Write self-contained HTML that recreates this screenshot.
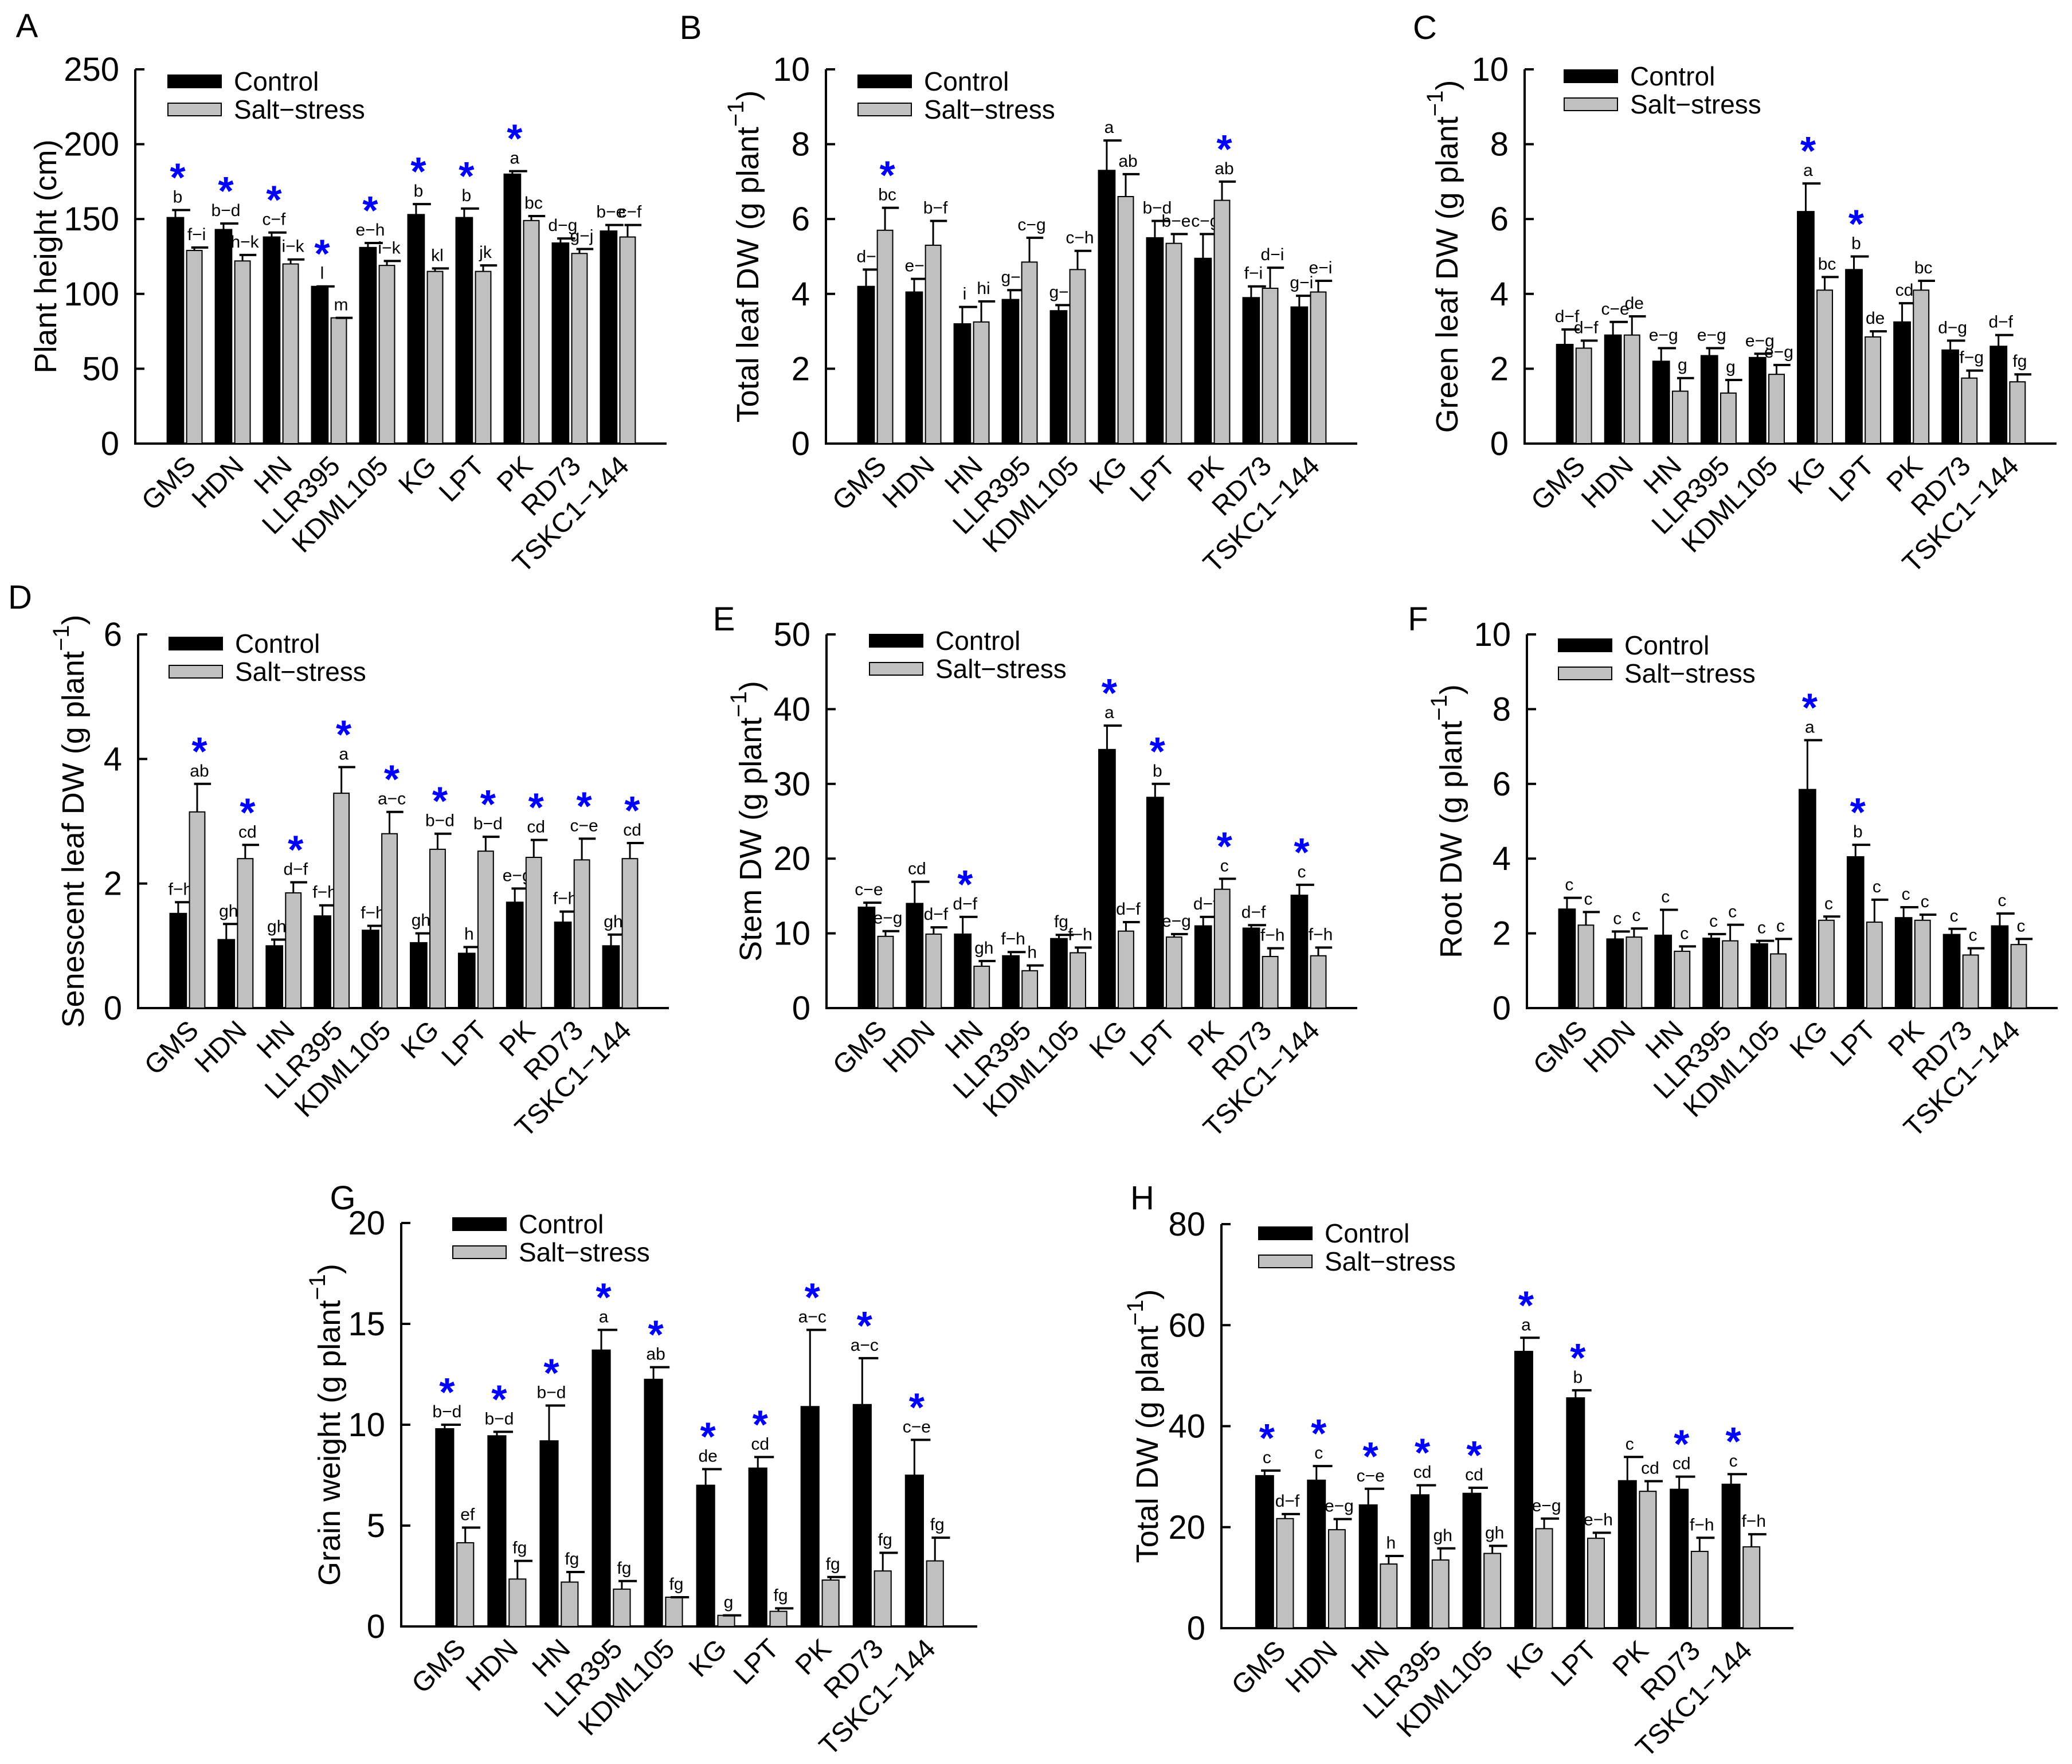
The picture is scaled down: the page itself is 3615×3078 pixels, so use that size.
<!DOCTYPE html>
<html><head><meta charset="utf-8"><style>
html,body{margin:0;padding:0;background:#fff;}
svg{display:block;font-family:"Liberation Sans",Arial,sans-serif;}
</style></head><body>
<svg id="fig" width="3615" height="3078" viewBox="0 0 3615 3078" xmlns="http://www.w3.org/2000/svg"></svg>
<script>
const categories = ["GMS","HDN","HN","LLR395","KDML105","KG","LPT","PK","RD73","TSKC1\u2212144"];
// Panel A
const aCtrl=[151,143,138,105,131,153,151,180,134,142];
const aCtrlErr=[156,147,141,105,134,160,157,182,137,146];
const aSalt=[129,122,120,84,119,115,115,149,127,138];
const aSaltErr=[131,126,123,84,122,117,119,152,130,146];
const aCtrlLet=["b","b\u2212d","c\u2212f","l","e\u2212h","b","b","a","d\u2212g","b\u2212e"];
const aSaltLet=["f\u2212i","h\u2212k","i\u2212k","m","i\u2212k","kl","jk","bc","g\u2212j","c\u2212f"];
const aStars=[1,1,1,1,1,1,1,1,0,0];
// Panel B
const bCtrl=[4.2,4.05,3.2,3.85,3.55,7.3,5.5,4.95,3.9,3.65];
const bCtrlErr=[4.65,4.4,3.65,4.1,3.7,8.1,5.95,5.6,4.2,3.95];
const bSalt=[5.7,5.3,3.25,4.85,4.65,6.6,5.35,6.5,4.15,4.05];
const bSaltErr=[6.3,5.95,3.8,5.5,5.15,7.2,5.6,7.0,4.7,4.35];
const bCtrlLet=["d\u2212i","e\u2212i","i","g\u2212i","g\u2212i","a","b\u2212d","c\u2212g","f\u2212i","g\u2212i"];
const bSaltLet=["bc","b\u2212f","hi","c\u2212g","c\u2212h","ab","b\u2212e","ab","d\u2212i","e\u2212i"];
const bStars=[2,0,0,0,0,0,0,2,0,0];
// Panel C
const cCtrl=[2.65,2.9,2.2,2.35,2.3,6.2,4.65,3.25,2.5,2.6];
const cCtrlErr=[3.05,3.25,2.55,2.55,2.4,6.95,5.0,3.75,2.75,2.9];
const cSalt=[2.55,2.9,1.4,1.35,1.85,4.1,2.85,4.1,1.75,1.65];
const cSaltErr=[2.75,3.4,1.75,1.7,2.1,4.45,3.0,4.35,1.95,1.85];
const cCtrlLet=["d\u2212f","c\u2212e","e\u2212g","e\u2212g","e\u2212g","a","b","cd","d\u2212g","d\u2212f"];
const cSaltLet=["d\u2212f","de","g","g","e\u2212g","bc","de","bc","f\u2212g","fg"];
const cStars=[0,0,0,0,0,1,1,0,0,0];
// Panel D
const dCtrl=[1.52,1.1,1.0,1.48,1.25,1.05,0.88,1.7,1.38,1.0];
const dCtrlErr=[1.7,1.35,1.1,1.65,1.32,1.2,0.98,1.92,1.55,1.18];
const dSalt=[3.15,2.4,1.85,3.45,2.8,2.55,2.52,2.42,2.38,2.4];
const dSaltErr=[3.6,2.62,2.02,3.87,3.15,2.8,2.75,2.7,2.72,2.65];
const dCtrlLet=["f\u2212h","gh","gh","f\u2212h","f\u2212h","gh","h","e\u2212g","f\u2212h","gh"];
const dSaltLet=["ab","cd","d\u2212f","a","a\u2212c","b\u2212d","b\u2212d","cd","c\u2212e","cd"];
const dStars=[2,2,2,2,2,2,2,2,2,2];
// Panel E
const eCtrl=[13.5,14,9.9,7.0,9.3,34.6,28.2,11.0,10.7,15.1];
const eCtrlErr=[14.1,16.9,12.2,7.5,9.8,37.8,30,12.2,11.1,16.5];
const eSalt=[9.6,9.9,5.6,5.0,7.4,10.3,9.5,15.9,6.9,7.0];
const eSaltErr=[10.3,10.8,6.3,5.7,8.1,11.5,9.9,17.3,8.0,8.1];
const eCtrlLet=["c\u2212e","cd","d\u2212f","f\u2212h","fg","a","b","d\u2212f","d\u2212f","c"];
const eSaltLet=["e\u2212g","d\u2212f","gh","h","f\u2212h","d\u2212f","e\u2212g","c","f\u2212h","f\u2212h"];
const eStars=[0,0,1,0,0,1,1,2,0,1];
// Panel F
const fCtrl=[2.65,1.85,1.95,1.87,1.72,5.85,4.05,2.42,1.97,2.2];
const fCtrlErr=[2.95,2.05,2.63,1.98,1.8,7.17,4.37,2.7,2.12,2.53];
const fSalt=[2.22,1.9,1.52,1.8,1.45,2.35,2.3,2.35,1.42,1.7];
const fSaltErr=[2.57,2.13,1.65,2.23,1.85,2.45,2.9,2.5,1.6,1.85];
const fCtrlLet=["c","c","c","c","c","a","b","c","c","c"];
const fSaltLet=["c","c","c","c","c","c","c","c","c","c"];
const fStars=[0,0,0,0,0,1,1,0,0,0];
// Panel G
const gCtrl=[9.8,9.45,9.2,13.7,12.25,7.0,7.85,10.9,11.0,7.5];
const gCtrlErr=[10.0,9.65,10.95,14.7,12.85,7.8,8.4,14.7,13.3,9.25];
const gSalt=[4.15,2.35,2.2,1.85,1.45,0.55,0.75,2.3,2.75,3.25];
const gSaltErr=[4.9,3.25,2.7,2.25,1.45,0.55,0.9,2.45,3.65,4.4];
const gCtrlLet=["b\u2212d","b\u2212d","b\u2212d","a","ab","de","cd","a\u2212c","a\u2212c","c\u2212e"];
const gSaltLet=["ef","fg","fg","fg","fg","g","fg","fg","fg","fg"];
const gStars=[1,1,1,1,1,1,1,1,1,1];
// Panel H
const hCtrl=[30.2,29.3,24.4,26.4,26.7,54.8,45.6,29.2,27.5,28.5];
const hCtrlErr=[31.2,32.1,27.6,28.3,27.8,57.5,47.1,33.9,30.0,30.5];
const hSalt=[21.7,19.5,12.7,13.5,14.8,19.7,17.8,27.1,15.2,16.1];
const hSaltErr=[22.6,21.6,14.3,15.8,16.3,21.7,18.9,29.1,17.9,18.6];
const hCtrlLet=["c","c","c\u2212e","cd","cd","a","b","c","cd","c"];
const hSaltLet=["d\u2212f","e\u2212g","h","gh","gh","e\u2212g","e\u2212h","cd","f\u2212h","f\u2212h"];
const hStars=[1,1,1,1,1,1,1,0,1,1];

const svg=document.getElementById('fig');
const NS="http://www.w3.org/2000/svg";
function mk(tag,attrs,parent){const e=document.createElementNS(NS,tag);for(const k in attrs)e.setAttribute(k,attrs[k]);(parent||svg).appendChild(e);return e;}

const panels=[
 {id:"a",letter:"A",lx:47,ly:65,x0:236,L:927,yT:121,yB:774,max:250,step:50,title:"Plant height (cm)",sup:false,tx:80,leg:[293,131],ctrl:aCtrl,ctrlE:aCtrlErr,salt:aSalt,saltE:aSaltErr,cl:aCtrlLet,sl:aSaltLet,st:aStars},
 {id:"b",letter:"B",lx:1205,ly:68,x0:1441,L:927,yT:121,yB:774,max:10,step:2,title:"Total leaf DW (g plant",sup:true,tx:1305,leg:[1497,131],ctrl:bCtrl,ctrlE:bCtrlErr,salt:bSalt,saltE:bSaltErr,cl:bCtrlLet,sl:bSaltLet,st:bStars},
 {id:"c",letter:"C",lx:2486,ly:68,x0:2660,L:928,yT:121,yB:774,max:10,step:2,title:"Green leaf DW (g plant",sup:true,tx:2525,leg:[2729,122],ctrl:cCtrl,ctrlE:cCtrlErr,salt:cSalt,saltE:cSaltErr,cl:cCtrlLet,sl:cSaltLet,st:cStars},
 {id:"d",letter:"D",lx:35,ly:1062,x0:241,L:926,yT:1107,yB:1759,max:6,step:2,title:"Senescent leaf DW (g plant",sup:true,tx:128,leg:[295,1112],ctrl:dCtrl,ctrlE:dCtrlErr,salt:dSalt,saltE:dSaltErr,cl:dCtrlLet,sl:dSaltLet,st:dStars},
 {id:"e",letter:"E",lx:1263,ly:1100,x0:1442,L:926,yT:1107,yB:1759,max:50,step:10,title:"Stem DW (g plant",sup:true,tx:1310,leg:[1517,1107],ctrl:eCtrl,ctrlE:eCtrlErr,salt:eSalt,saltE:eSaltErr,cl:eCtrlLet,sl:eSaltLet,st:eStars},
 {id:"f",letter:"F",lx:2474,ly:1100,x0:2664,L:926,yT:1107,yB:1759,max:10,step:2,title:"Root DW (g plant",sup:true,tx:2532,leg:[2719,1115],ctrl:fCtrl,ctrlE:fCtrlErr,salt:fSalt,saltE:fSaltErr,cl:fCtrlLet,sl:fSaltLet,st:fStars},
 {id:"g",letter:"G",lx:598,ly:2110,x0:700,L:1005,yT:2134,yB:2838,max:20,step:5,title:"Grain weight (g plant",sup:true,tx:575,leg:[790,2125],ctrl:gCtrl,ctrlE:gCtrlErr,salt:gSalt,saltE:gSaltErr,cl:gCtrlLet,sl:gSaltLet,st:gStars},
 {id:"h",letter:"H",lx:1993,ly:2110,x0:2131,L:998,yT:2136,yB:2841,max:80,step:20,title:"Total DW (g plant",sup:true,tx:2002,leg:[2196,2141],ctrl:hCtrl,ctrlE:hCtrlErr,salt:hSalt,saltE:hSaltErr,cl:hCtrlLet,sl:hSaltLet,st:hStars}
];

panels.forEach(p=>{
 const g=mk('g',{});
 
 
 const yS=v=>p.yB-(v/p.max)*(p.yB-p.yT);
 const xS=(i,s)=>p.x0+p.L*(0.060+i*0.0906+(s?0.0367:0));
 const cw=p.L*0.031, sw=p.L*0.029;
 const lt=mk('text',{x:p.lx,y:p.ly,'font-size':58,'text-anchor':'middle'},g);lt.textContent=p.letter;
 
 
 const ya=mk('line',{x1:p.x0,y1:p.yT,x2:p.x0,y2:p.yB,stroke:'#000','stroke-width':4},g);
 
 
 const xa=mk('line',{x1:p.x0-2,y1:p.yB,x2:p.x0+p.L,y2:p.yB,stroke:'#000','stroke-width':4},g);
 
 
 for(let v=0;v<=p.max+1e-9;v+=p.step){
  const y=yS(v);
  mk('line',{x1:p.x0,y1:y,x2:p.x0+16,y2:y,stroke:'#000','stroke-width':4},g);
  const t=mk('text',{x:p.x0-28,y:y+20,'font-size':58,'text-anchor':'end'},g);t.textContent=String(v);
  
  
 }
 const cy=(p.yT+p.yB)/2;
 const tt=mk('text',{x:p.tx,y:cy,'font-size':54,'text-anchor':'middle',transform:`rotate(-90 ${p.tx} ${cy})`,dy:18},g);
 
 
 if(p.sup){
  tt.appendChild(document.createTextNode(p.title));
  const s=mk('tspan',{dy:-26,'font-size':40},tt);s.textContent='\u22121';
  const s2=mk('tspan',{dy:26},tt);s2.textContent=')';
 } else tt.textContent=p.title;
 const [lx,ly]=p.leg;
 const r1=mk('rect',{x:lx,y:ly,width:93,height:22,fill:'#000',stroke:'#000','stroke-width':2},g);
 
 
 const r2=mk('rect',{x:lx,y:ly+49,width:93,height:22,fill:'#c0c0c0',stroke:'#000','stroke-width':2},g);
 
 
 const t1=mk('text',{x:lx+115,y:ly+27,'font-size':46},g);t1.textContent='Control';
 
 
 const t2=mk('text',{x:lx+115,y:ly+76,'font-size':46},g);t2.textContent='Salt\u2212stress';
 
 
 categories.forEach((c,i)=>{
  [[0,p.ctrl,p.ctrlE,p.cl,'#000',cw],[1,p.salt,p.saltE,p.sl,'#c0c0c0',sw]].forEach(([s,vals,errs,lets,fill,w])=>{
   const x=xS(i,s), y=yS(vals[i]), ey=yS(errs[i]), cx=x+w/2;
   const b=mk('rect',{x:x,y:y,width:w,height:p.yB-y,fill:fill,stroke:'#000','stroke-width':2},g);
   
   
   if(ey<y-1){mk('line',{x1:cx,y1:y,x2:cx,y2:ey,stroke:'#000','stroke-width':3},g);}
   mk('line',{x1:cx-w*0.2,y1:ey,x2:cx+w*0.9,y2:ey,stroke:'#000','stroke-width':4},g);
   const lb=mk('text',{x:cx+4,y:ey-13,'font-size':30,'text-anchor':'middle'},g);lb.textContent=lets[i];
   
   
   if(p.st[i]===s+1){
    const st=mk('text',{x:cx+4,y:ey-13+20,'font-size':70,'font-weight':'bold',fill:'#0000ff','text-anchor':'middle'},g);
    st.setAttribute('transform',`translate(0,-40)`);
    st.textContent='*';
    
    
   }
  });
  const gc=xS(i,0)+p.L*0.033;
  const cl=mk('text',{x:gc+22,y:p.yB+42,'font-size':48,'text-anchor':'end',transform:`rotate(-45 ${gc+22} ${p.yB+42})`},g);
  cl.textContent=c;
  
  
 });
});
</script>
</body></html>
